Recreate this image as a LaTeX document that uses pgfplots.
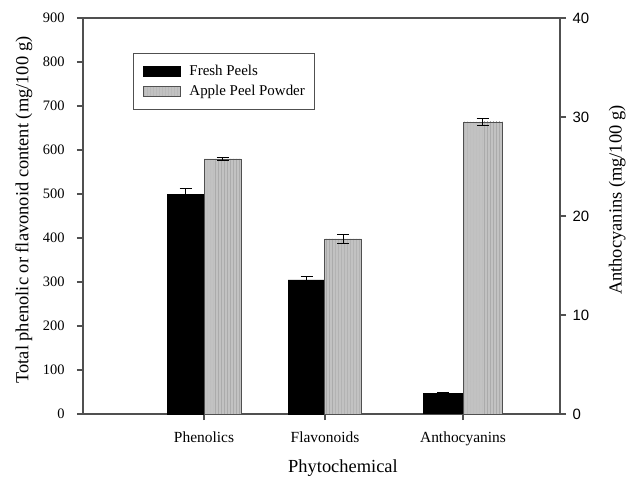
\documentclass[border=0pt]{standalone}
\usepackage{pgfplots}
\pgfplotsset{compat=1.18}
\usetikzlibrary{patterns}
\usepackage{fontspec}
\setmainfont{Liberation Serif}
\newfontfamily\arialfont{Liberation Sans}
\definecolor{axgray}{HTML}{505050}
\definecolor{powder}{HTML}{C2C2C2}
\definecolor{stripe}{HTML}{ABABAB}
\begin{document}
\begin{tikzpicture}
\useasboundingbox (-83bp,-67bp) rectangle (543bp,414bp);
\begin{axis}[
  at={(0,0)}, anchor=south west, scale only axis,
  width=477bp, height=396bp,
  xmin=83, xmax=560, ymin=0, ymax=900,
  ytick={0,100,...,900},
  xtick={204,325,463},
  xticklabels={Phenolics,Flavonoids,Anthocyanins},
  xtick pos=bottom, ytick pos=left,
  tick align=outside,
  major tick length=6bp,
  axis line style={axgray, line width=1.1bp},
  every tick/.style={axgray, line width=1.1bp},
  /pgf/number format/assume math mode=true,
  yticklabel style={font=\fontsize{14.5}{16}\selectfont, xshift=-9bp},
  xticklabel style={font=\fontsize{15.5}{17}\selectfont, yshift=-8bp},
  ylabel={Total phenolic or flavonoid content (mg/100 g)},
  ylabel style={at={(axis description cs:-0.124,0.515)}, anchor=center, rotate=0, font=\fontsize{18.5}{20}\selectfont},
  xlabel={Phytochemical},
  xlabel style={at={(axis description cs:0.545,-0.136)}, anchor=center, font=\fontsize{18.5}{20}\selectfont},
  legend style={at={(axis description cs:0.105,0.912)}, anchor=north west,
    draw=axgray, line width=0.8bp, font=\fontsize{15}{17}\selectfont,
    inner xsep=8bp, inner ysep=10bp, row sep=4bp, cells={anchor=west}},
  legend image code/.code={\pgfpathmoveto{\pgfqpoint{-2bp}{0bp}}\pgfpathlineto{\pgfqpoint{44bp}{0bp}}\pgfusepath{discard}\draw[#1, line width=0.6bp] (0bp,-5bp) rectangle (37bp,5bp);},
]
\addplot[ybar, bar shift=0pt, bar width=37, fill=black, draw=black,
  error bars/.cd, y dir=both, y explicit,
  error bar style={black, line width=1bp},
  error mark options={rotate=90, mark size=6bp, line width=1bp, black}]
  coordinates {(185.5,500) +- (0,12) (306.5,305) +- (0,8)};
\addlegendentry{Fresh Peels}
\addplot[ybar, bar shift=0pt, bar width=37, fill=powder, draw=axgray,
  postaction={pattern=vertical lines, pattern color=stripe},
  error bars/.cd, y dir=both, y explicit,
  error bar style={black, line width=1bp},
  error mark options={rotate=90, mark size=6bp, line width=1bp, black}]
  coordinates {(222.5,580) +- (0,3) (343,398) +- (0,10)};
\addlegendentry{Apple Peel Powder}
\end{axis}
\begin{axis}[
  at={(0,0)}, anchor=south west, scale only axis,
  width=477bp, height=396bp,
  xmin=83, xmax=560, ymin=0, ymax=40,
  axis x line=none, axis y line*=right,
  ytick={0,10,...,40},
  tick align=outside,
  major tick length=6bp,
  axis line style={axgray, line width=1.1bp},
  every tick/.style={axgray, line width=1.1bp},
  /pgf/number format/assume math mode=true,
  yticklabel style={font=\arialfont\fontsize{15}{17}\selectfont, xshift=3bp},
  ylabel={Anthocyanins (mg/100 g)},
  ylabel style={at={(axis description cs:1.12,0.54)}, anchor=center, rotate=0, font=\fontsize{18.5}{20}\selectfont},
]
\addplot[ybar, bar shift=0pt, bar width=39.5, fill=black, draw=black,
  error bars/.cd, y dir=both, y explicit,
  error bar style={black, line width=1bp},
  error mark options={rotate=90, mark size=6bp, line width=1bp, black}]
  coordinates {(443,2.1) +- (0,0.05)};
\addplot[ybar, bar shift=0pt, bar width=39.5, fill=powder, draw=axgray,
  postaction={pattern=vertical lines, pattern color=stripe},
  error bars/.cd, y dir=both, y explicit,
  error bar style={black, line width=1bp},
  error mark options={rotate=90, mark size=6bp, line width=1bp, black}]
  coordinates {(482.5,29.5) +- (0,0.35)};
\end{axis}
\end{tikzpicture}
\end{document}
